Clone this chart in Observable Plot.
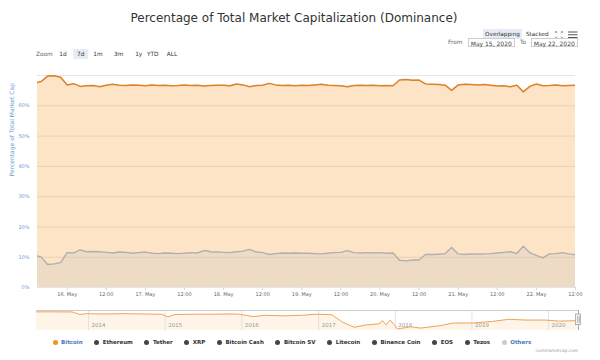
<!DOCTYPE html>
<html><head><meta charset="utf-8">
<script src="https://cdn.jsdelivr.net/npm/d3@7"></script>
<script src="https://cdn.jsdelivr.net/npm/@observablehq/plot@0.6"></script>
<style>
html,body{margin:0;padding:0;background:#fff;}
#wrap{position:relative;width:600px;height:360px;overflow:hidden;font-family:"DejaVu Sans",sans-serif;color:#333;}
.abs{position:absolute;white-space:nowrap;}
.btn{position:absolute;top:49px;height:10px;line-height:10px;font-size:5.8px;color:#333;transform:translateX(-50%);padding:0 4px;}
.btn.sel{background:#e6ebf5;}
.box{position:absolute;top:37.5px;height:9px;line-height:9px;border:0.6px solid #ccc;font-size:6px;color:#444;text-align:center;box-sizing:border-box;}
#legend{position:absolute;top:337px;left:52.5px;height:10px;display:flex;align-items:center;gap:11.5px;font-size:5.5px;font-weight:bold;}
#legend .it{display:flex;align-items:center;gap:3.6px;}
#legend .dot{width:5px;height:5px;border-radius:50%;}
</style></head><body><div id="wrap"></div>
<script>
// ---------- data ----------
const startTime = Date.UTC(2020, 4, 15, 14); // first sample, 2-hour steps
const stepHours = 2;
const bitcoin = [67.5,68.0,69.8,69.9,69.4,66.9,67.3,66.4,66.6,66.7,66.3,66.8,67.1,66.8,66.7,66.9,66.8,
  66.6,66.9,66.7,66.8,66.6,66.7,66.9,66.7,66.8,66.5,66.7,66.8,
  66.8,66.6,67.2,66.9,66.3,66.7,66.8,67.4,66.9,66.7,66.8,66.6,
  66.8,66.7,66.9,67.1,66.8,66.7,66.6,66.3,66.7,66.8,66.7,66.8,
  66.6,66.7,66.6,68.5,68.7,68.4,68.5,67.2,67.1,67.0,66.8,65.1,
  66.9,67.1,67.0,66.9,67.0,66.8,66.5,66.6,66.3,66.8,64.6,66.4,
  67.2,66.6,66.7,66.9,66.6,66.7,66.8];
const others = [10.6,10.1,7.6,7.8,8.2,11.5,11.4,12.4,11.8,11.9,11.8,11.6,11.4,11.7,11.6,11.3,11.5,
  11.7,11.3,11.2,11.4,11.3,11.2,11.3,11.5,11.4,12.2,11.8,11.7,
  11.6,11.5,11.8,12.0,12.6,11.7,11.5,10.9,11.2,11.4,11.3,11.4,
  11.3,11.3,11.2,11.1,11.3,11.5,11.6,12.2,11.5,11.4,11.5,11.4,
  11.5,11.3,11.4,9.0,8.8,9.1,9.1,10.9,10.9,11.0,11.2,13.2,
  11.1,10.9,11.1,11.0,11.1,11.2,11.4,11.6,11.8,11.2,13.6,11.5,
  10.6,9.8,11.1,11.2,11.5,11.1,10.8];
const xTickDates = ["2020-05-16T00:00Z","2020-05-16T12:00Z","2020-05-17T00:00Z","2020-05-17T12:00Z",
  "2020-05-18T00:00Z","2020-05-18T12:00Z","2020-05-19T00:00Z","2020-05-19T12:00Z","2020-05-20T00:00Z",
  "2020-05-20T12:00Z","2020-05-21T00:00Z","2020-05-21T12:00Z","2020-05-22T00:00Z","2020-05-22T12:00Z"];
const xTickLabels = ["16. May","12:00","17. May","12:00","18. May","12:00","19. May","12:00","20. May",
  "12:00","21. May","12:00","22. May","12:00"];
const yTicks = [0,10,20,30,40,50,60];
const yGrid = [0,10,20,30,40,50,60,70];
const yTitle = "Percentage of Total Market Cap";

const navDates = ["2013-04-28","2013-07-15","2013-10-15","2013-11-22","2013-12-20","2014-03-15","2014-06-15",
  "2014-09-15","2014-12-15","2015-01-15","2015-02-15","2015-05-15","2015-08-15","2015-11-15","2015-12-20",
  "2016-02-25","2016-04-20","2016-07-15","2016-10-15","2016-12-20","2017-02-05","2017-03-05","2017-04-25",
  "2017-06-20","2017-08-15","2017-10-15","2017-11-01","2017-11-18","2017-12-08","2018-01-12","2018-03-15",
  "2018-05-01","2018-08-01","2018-10-05","2019-01-05","2019-04-10","2019-06-25","2019-09-20","2019-12-20",
  "2020-02-20","2020-05-22"];
const navValues = [95,95,94.5,85,88,87,88,87,86,76,85,86,86,87,86,
  77,82,80,82,86,85,84,56,37,46,50,62,46,64,31,39,
  34,43,53,53,59,67,64,64,60,62];
const navYears = ["2014","2015","2016","2017","2018","2019","2020"];

const legendNames = ["Bitcoin","Ethereum","Tether","XRP","Bitcoin Cash","Bitcoin SV","Litecoin","Binance Coin","EOS","Tezos","Others"];
const legendDots = ["#f7931a","#444","#444","#444","#444","#444","#444","#444","#444","#444","#cccccc"];
const legendText = ["#4a76c0","#333","#333","#333","#333","#333","#333","#333","#333","#333","#4a76c0"];

const zoomButtons = ["1d","7d","1m","3m","1y","YTD","ALL"];
const zoomCenters = [63,80.8,97.9,118.7,138.7,152.8,172];
const fromDate = "May 15, 2020", toDate = "May 22, 2020";

// ---------- layout ----------
const wrap = document.getElementById("wrap");
function add(html){ wrap.insertAdjacentHTML("beforeend", html); }

add(`<div class="abs" style="left:0;width:588px;top:10px;text-align:center;font-size:12px;line-height:16px;color:#333">Percentage of Total Market Capitalization (Dominance)</div>`);
add(`<div class="abs" style="left:483px;top:29px;width:39px;height:10px;line-height:10px;background:#e6ebf5;font-size:5.7px;text-align:center">Overlapping</div>`);
add(`<div class="abs" style="left:526px;top:29px;height:10px;line-height:10px;font-size:5.7px">Stacked</div>`);
add(`<svg class="abs" style="left:554px;top:30px" width="26" height="10">
 <g stroke="#999" stroke-width="0.8" fill="none">
  <path d="M1.5,1.5 l2,2 M1.5,1.5 h1.5 M1.5,1.5 v1.5"/>
  <path d="M8.5,1.5 l-2,2 M8.5,1.5 h-1.5 M8.5,1.5 v1.5"/>
  <path d="M1.5,8.5 l2,-2 M1.5,8.5 h1.5 M1.5,8.5 v-1.5"/>
  <path d="M8.5,8.5 l-2,-2 M8.5,8.5 h-1.5 M8.5,8.5 v-1.5"/>
 </g>
 <g stroke="#555" stroke-width="1.1"><path d="M14,2 h9.5 M14,4.8 h9.5 M14,7.6 h9.5"/></g>
</svg>`);
add(`<div class="abs" style="left:36px;top:49px;height:10px;line-height:10px;font-size:5.8px;color:#666">Zoom</div>`);
zoomButtons.forEach((b,i)=>add(`<div class="btn${b==="7d"?" sel":""}" style="left:${zoomCenters[i]}px">${b}</div>`));
add(`<div class="abs" style="left:448px;top:37.5px;line-height:9px;font-size:5.8px;color:#666">From</div>`);
add(`<div class="box" style="left:468px;width:46.5px">${fromDate}</div>`);
add(`<div class="abs" style="left:520px;top:37.5px;line-height:9px;font-size:5.8px;color:#666">To</div>`);
add(`<div class="box" style="left:531px;width:46.5px">${toDate}</div>`);

// ---------- main chart ----------
const series = bitcoin.map((v,i)=>({t:new Date(startTime + i*stepHours*3600e3), btc:v, oth:others[i]}));
const tickDates = xTickDates.map(s=>new Date(s));
const labelOf = new Map(tickDates.map((d,i)=>[+d, xTickLabels[i]]));
const main = Plot.plot({
  width:600, height:245, marginTop:15, marginBottom:18, marginLeft:37, marginRight:25,
  style:{fontFamily:"DejaVu Sans", background:"transparent", overflow:"visible"},
  x:{type:"utc", domain:[new Date(Date.UTC(2020,4,15,14,54)), new Date(Date.UTC(2020,4,22,12))]},
  y:{domain:[0,70]},
  marks:[
    Plot.ruleY(yGrid,{stroke:"#e6e6e6", strokeWidth:1}),
    Plot.areaY(series,{x:"t", y:"btc", fill:"#f7931a", fillOpacity:0.25, clip:true}),
    Plot.areaY(series,{x:"t", y:"oth", fill:"#c4c4c4", fillOpacity:0.28, clip:true}),
    Plot.lineY(series,{x:"t", y:"oth", stroke:"#b2b0ae", strokeWidth:1.4, clip:true}),
    Plot.lineY(series,{x:"t", y:"btc", stroke:"#dc822a", strokeWidth:1.5, clip:true}),
    Plot.axisY({ticks:yTicks, tickSize:0, tickPadding:8, tickFormat:d=>d+"%", fill:"#6f9bd6", label:null, fontSize:5}),
    Plot.axisX({ticks:tickDates, tickSize:3, tickPadding:2, tickFormat:d=>labelOf.get(+d), fill:"#666", stroke:"#ccd6eb", label:null, fontSize:5}),
    Plot.text([yTitle],{frameAnchor:"left", rotate:-90, dx:-25, dy:-5, fill:"#6f9bd6", fontSize:6})
  ]
});
main.style.position="absolute"; main.style.left="0px"; main.style.top="60px";
wrap.appendChild(main);

// ---------- navigator ----------
const navData = navDates.map((d,i)=>({t:new Date(d+"T00:00Z"), v:navValues[i]}));
const yearDates = navYears.map(y=>new Date(y+"-01-01T00:00Z"));
const navEnd = new Date("2020-05-22T12:00Z");
const nav = Plot.plot({
  width:600, height:26, marginTop:2, marginBottom:4, marginLeft:36, marginRight:22,
  style:{fontFamily:"DejaVu Sans", background:"transparent", overflow:"visible"},
  x:{type:"utc", axis:null, domain:[navData[0].t, navEnd]},
  y:{axis:null, domain:[25,100]},
  marks:[
    Plot.areaY(navData,{x:"t", y:"v", fill:"#f7931a", fillOpacity:0.1, clip:true}),
    Plot.ruleX(yearDates,{stroke:"#e2e2e2", strokeWidth:1}),
    Plot.text(yearDates,{x:d=>d, text:(d,i)=>navYears[i], frameAnchor:"bottom", dy:-4, dx:3, textAnchor:"start", fill:"#999", fontSize:5.5}),
    Plot.lineY(navData,{x:"t", y:"v", stroke:"#f0a35a", strokeWidth:1, clip:true}),
    Plot.ruleY([100],{stroke:"#cccccc", strokeWidth:1}),
    Plot.ruleX([navEnd],{stroke:"#999", strokeWidth:0.8}),
    Plot.rect([navEnd],{x1:d=>d, x2:d=>d, y1:45, y2:85, insetLeft:-2.5, insetRight:-2.5, fill:"#f2f2f2", stroke:"#999", strokeWidth:0.7}),
    Plot.ruleX([navEnd],{y1:52, y2:78, stroke:"#777", strokeWidth:0.5, dx:-0.8}),
    Plot.ruleX([navEnd],{y1:52, y2:78, stroke:"#777", strokeWidth:0.5, dx:0.8})
  ]
});
nav.style.position="absolute"; nav.style.left="0px"; nav.style.top="308px";
wrap.appendChild(nav);

// ---------- legend ----------
add(`<div id="legend">${legendNames.map((n,i)=>`<div class="it"><div class="dot" style="background:${legendDots[i]}"></div><span style="color:${legendText[i]}">${n}</span></div>`).join("")}</div>`);
add(`<div class="abs" style="right:22px;top:348px;font-size:4.3px;line-height:6px;color:#999">coinmarketcap.com</div>`);
</script>
</body></html>
